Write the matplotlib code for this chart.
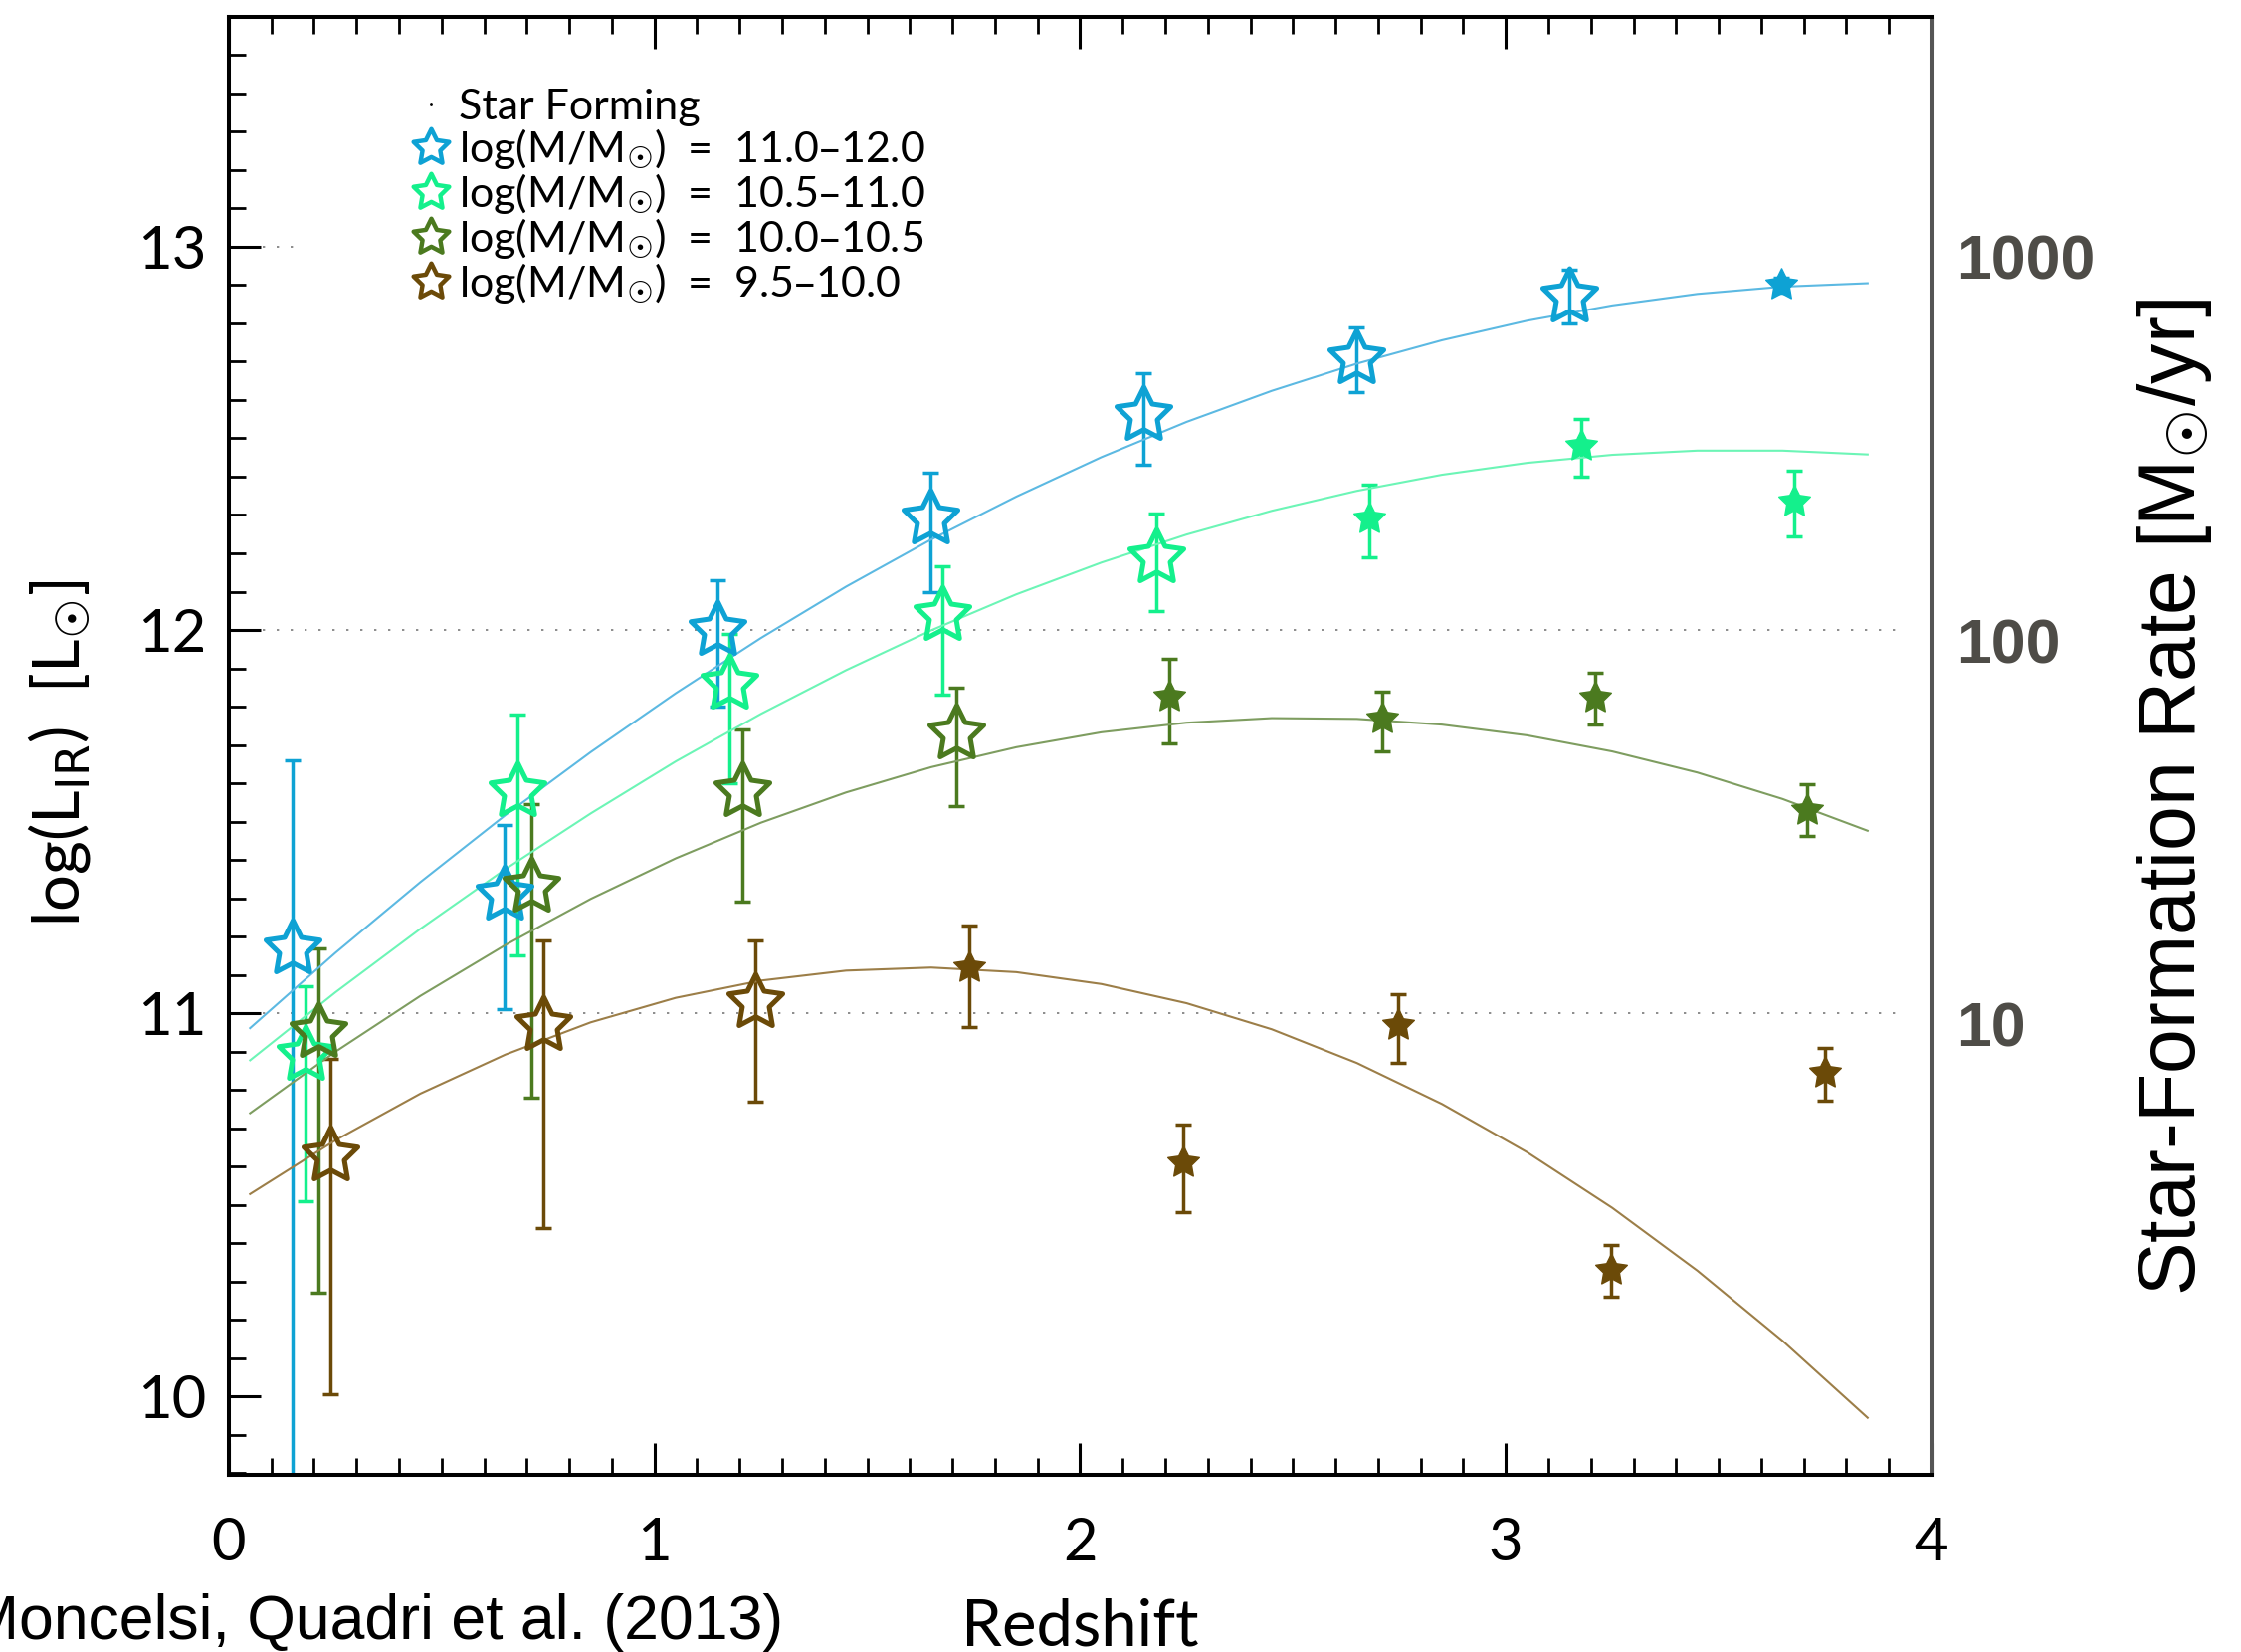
import numpy as np
import matplotlib.pyplot as plt
from matplotlib.path import Path
from matplotlib.lines import Line2D
from matplotlib.transforms import ScaledTranslation

plt.rcParams['mathtext.fontset'] = 'dejavusans'

IDL_FONT = ['Lato', 'DejaVu Sans']
HELV = ['Liberation Sans', 'DejaVu Sans']

# --- data (redshift, log L_IR, lower / upper errors) ---
mass_bins = ['11.0–12.0', '10.5–11.0', '10.0–10.5', '9.5–10.0']
colors = ['#0ea2d4', '#14f08c', '#4b7a1f', '#6b4a08']
curve_colors = ['#5cb9e2', '#6cf5b6', '#7e9d60', '#9c7e48']

z_blue = [0.149, 0.648, 1.148, 1.648, 2.148, 2.648, 3.148, 3.646]
L_blue = [11.17, 11.31, 12.00, 12.29, 12.56, 12.71, 12.87, 12.90]
lo_blue = [1.60, 0.30, 0.20, 0.19, 0.13, 0.09, 0.07, 0.02]
hi_blue = [0.49, 0.18, 0.13, 0.12, 0.11, 0.08, 0.07, 0.02]

z_green = [0.180, 0.678, 1.177, 1.677, 2.178, 2.680, 3.177, 3.677]
L_green = [10.89, 11.58, 11.86, 12.04, 12.19, 12.29, 12.48, 12.335]
lo_green = [0.38, 0.43, 0.26, 0.21, 0.14, 0.10, 0.08, 0.09]
hi_green = [0.18, 0.20, 0.13, 0.125, 0.115, 0.09, 0.07, 0.08]

z_dkgreen = [0.210, 0.711, 1.206, 1.708, 2.209, 2.709, 3.209, 3.707]
L_dkgreen = [10.95, 11.33, 11.58, 11.73, 11.825, 11.77, 11.823, 11.53]
lo_dkgreen = [0.68, 0.55, 0.29, 0.19, 0.12, 0.086, 0.07, 0.067]
hi_dkgreen = [0.22, 0.215, 0.16, 0.12, 0.10, 0.07, 0.065, 0.068]

z_brown = [0.239, 0.740, 1.236, 1.740, 2.243, 2.747, 3.247, 3.749]
L_brown = [10.63, 10.97, 11.03, 11.12, 10.61, 10.97, 10.33, 10.845]
lo_brown = [0.625, 0.53, 0.26, 0.155, 0.13, 0.10, 0.07, 0.073]
hi_brown = [0.25, 0.22, 0.16, 0.11, 0.10, 0.08, 0.065, 0.064]

# how many points of each bin are drawn as open stars (rest are filled)
n_open = [7, 5, 4, 3]

# fitted curves
fit_z = [0.05, 0.25, 0.45, 0.65, 0.85, 1.05, 1.25, 1.45, 1.65, 1.85,
         2.05, 2.25, 2.45, 2.65, 2.85, 3.05, 3.25, 3.45, 3.65, 3.85]
fit_blue = [10.961, 11.157, 11.342, 11.517, 11.681, 11.835, 11.979, 12.113, 12.236, 12.348,
            12.451, 12.543, 12.624, 12.695, 12.756, 12.807, 12.847, 12.877, 12.896, 12.905]
fit_green = [10.877, 11.054, 11.220, 11.376, 11.521, 11.657, 11.781, 11.895, 11.999, 12.093,
             12.176, 12.249, 12.311, 12.363, 12.405, 12.436, 12.457, 12.468, 12.468, 12.458]
fit_dkgreen = [10.739, 10.899, 11.045, 11.178, 11.298, 11.404, 11.497, 11.576, 11.642, 11.694,
               11.733, 11.758, 11.770, 11.768, 11.753, 11.725, 11.683, 11.628, 11.559, 11.476]
fit_brown = [10.528, 10.668, 10.790, 10.892, 10.976, 11.040, 11.085, 11.111, 11.119, 11.107,
             11.076, 11.026, 10.958, 10.870, 10.763, 10.637, 10.492, 10.328, 10.145, 9.944]

x_ticks = [0, 1, 2, 3, 4]
y_ticks = [10, 11, 12, 13]
sfr_ticks = [11, 12, 13]
sfr_labels = ['10', '100', '1000']

groups = [
    (z_blue, L_blue, lo_blue, hi_blue, fit_blue),
    (z_green, L_green, lo_green, hi_green, fit_green),
    (z_dkgreen, L_dkgreen, lo_dkgreen, hi_dkgreen, fit_dkgreen),
    (z_brown, L_brown, lo_brown, hi_brown, fit_brown),
]

star = Path.unit_regular_star(5, innerCircle=0.5)

fig = plt.figure(figsize=(22.52, 16.60), dpi=100)
ax = fig.add_axes([0.1021, 0.1072, 0.7598, 0.8826])
ax.set_xlim(0, 4)
ax.set_ylim(9.795, 13.60)

# dotted guide lines
for yv in (11, 12):
    ax.axhline(yv, xmin=0.02, xmax=0.981, color='#8c8c8c', lw=1.4, ls=(0, (1.2, 6)), zorder=1)
ax.axhline(13, xmin=0.02, xmax=0.038, color='#8c8c8c', lw=1.4, ls=(0, (1.2, 6)), zorder=1)

for (z, L, lo, hi, fit), c, cc, k in zip(groups, colors, curve_colors, n_open):
    z = np.array(z)
    L = np.array(L)
    ax.errorbar(z, L, yerr=[lo, hi], fmt='none', ecolor=c, elinewidth=2.5,
                capsize=6, capthick=2.5, zorder=2)
    ax.plot(z[:k], L[:k], ls='none', marker=star, ms=41, mfc='none', mec=c, mew=3.6, zorder=4)
    ax.plot(z[k:], L[k:], ls='none', marker=star, ms=24, mfc=c, mec=c, mew=1, zorder=4)
    ax.plot(fit_z, fit, color=cc, lw=1.5, zorder=3)

# axes styling (IDL look)
ax.set_xticks(x_ticks)
ax.set_yticks(y_ticks)
ax.set_xticks(np.arange(0, 4.01, 0.1), minor=True)
ax.set_yticks(np.arange(9.8, 13.61, 0.1), minor=True)
ax.tick_params(which='major', direction='in', length=23, width=2.2, top=True, right=True,
               labelsize=43)
ax.tick_params(which='minor', direction='in', length=12, width=2.0, top=True, right=True)
ax.tick_params(axis='x', pad=30)
ax.tick_params(axis='y', pad=16)
for lab in ax.get_xticklabels() + ax.get_yticklabels():
    lab.set_family(IDL_FONT)
for s in ax.spines.values():
    s.set_linewidth(2.9)
ax.spines['right'].set_color('#555555')

ax.set_xlabel('Redshift', fontsize=47, family=IDL_FONT)
ax.xaxis.set_label_coords(0.5, -0.084)
ax.set_ylabel('log(L$_{\\rm IR}$)  [L$_{☉}$]', fontsize=47, family=IDL_FONT)
ax.yaxis.set_label_coords(-0.080, 0.495)

# right-hand SFR axis
ax2 = ax.twinx()
ax2.set_ylim(ax.get_ylim())
ax2.set_yticks(sfr_ticks)
ax2.set_yticklabels(sfr_labels)
ax2.tick_params(axis='y', length=0, pad=18, labelsize=45, labelcolor='#4e4c47')
shift = ScaledTranslation(0, -0.10, fig.dpi_scale_trans)
for t in ax2.yaxis.get_major_ticks():
    t.label2.set_family(HELV)
    t.label2.set_weight('bold')
    t.label2.set_transform(t.label2.get_transform() + shift)
for s in ax2.spines.values():
    s.set_visible(False)
ax2.set_ylabel('Star-Formation Rate [M$_{☉}$/yr]', fontsize=58, family=HELV)
ax2.yaxis.set_label_coords(1.119, 0.465)

# legend
handles = [Line2D([], [], ls='none', marker='.', ms=2, color='k')]
labels = ['Star Forming']
for c, mb in zip(colors, mass_bins):
    handles.append(Line2D([], [], ls='none', marker=star, ms=27, mfc='none', mec=c, mew=3.2))
    labels.append('log(M/M$_{☉}$)  =  ' + mb)
leg = ax.legend(handles, labels, loc='upper left', bbox_to_anchor=(0.106, 0.951),
                frameon=False, handlelength=1.0, handletextpad=0.15, borderpad=0,
                borderaxespad=0, labelspacing=0.0,
                prop={'family': IDL_FONT, 'size': 31})

fig.text(0.3495, 0.0078, 'Moncelsi, Quadri et al. (2013)', ha='right', va='baseline',
         fontsize=45, family=HELV)

fig.savefig('out.png', dpi=100)
